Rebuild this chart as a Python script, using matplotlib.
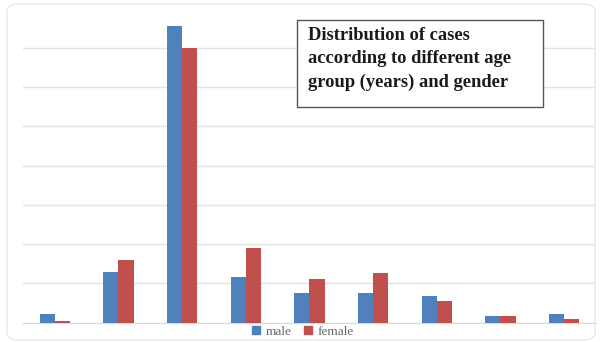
import numpy as np
import matplotlib.pyplot as plt
from matplotlib.patches import FancyBboxPatch, Patch, Rectangle

# age groups (labels not shown in the picture)
groups = ['g1', 'g2', 'g3', 'g4', 'g5', 'g6', 'g7', 'g8', 'g9']
male = [2.1, 13.0, 75.5, 11.6, 7.6, 7.6, 6.8, 1.7, 2.2]
female = [0.5, 16.0, 70.0, 19.0, 11.0, 12.6, 5.5, 1.7, 0.9]

title = 'Distribution of cases\naccording to different age\ngroup (years) and gender'

blue = '#4F81BD'
red = '#C0504D'

W, H = 600, 342
fig = plt.figure(figsize=(6, 3.42), dpi=100)
ax = fig.add_axes([0.0383, 0.0564, 0.955, 0.9193])

x = np.arange(len(groups))
w = 0.236
ax.bar(x - w / 2, male, w, color=blue, label='male', zorder=3)
ax.bar(x + w / 2, female, w, color=red, label='female', zorder=3)

ax.set_xlim(-0.5, len(groups) - 0.5)
ax.set_ylim(0, 80)
ax.set_yticks(np.arange(0, 71, 10))
ax.yaxis.grid(True, color='#e3e3e3', linewidth=1, zorder=0)
ax.tick_params(left=False, bottom=False, labelleft=False, labelbottom=False)
for s in ['top', 'right', 'left']:
    ax.spines[s].set_visible(False)
ax.spines['bottom'].set_color('#d9d9d9')

# title box (pixel positions from the top-left)
box = Rectangle((297 / W, 1 - 106.5 / H), 246 / W, 87 / H, transform=fig.transFigure,
                facecolor='white', edgecolor='#555555', linewidth=1, zorder=5)
fig.patches.append(box)
fig.text(308 / W, 1 - 26.5 / H, title, ha='left', va='top',
         family='Liberation Serif', fontweight='bold', fontsize=13.3,
         linespacing=1.52, color='#1a1a1a', zorder=6)

handles = [Patch(color=blue, label='male'), Patch(color=red, label='female')]
fig.legend(handles=handles, loc='center', bbox_to_anchor=(0.505, 0.03), ncol=2,
           frameon=False, handlelength=0.6, handleheight=0.6, handletextpad=0.4,
           columnspacing=1.0, prop={'family': 'Liberation Serif', 'size': 9.5},
           labelcolor='#666666')

# card border
card = FancyBboxPatch((0.012, 0.006), 0.98, 0.982, boxstyle='round,pad=0,rounding_size=0.02',
                      transform=fig.transFigure, facecolor='none', edgecolor='#e8e8e8',
                      linewidth=1)
fig.patches.append(card)

fig.savefig('out.png', dpi=100)
